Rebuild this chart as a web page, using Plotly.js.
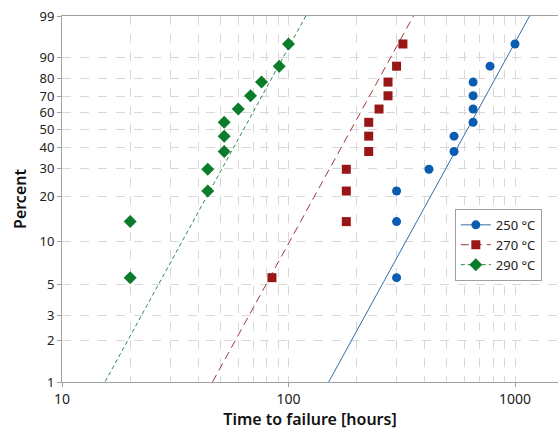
<!DOCTYPE html>
<html><head><meta charset="utf-8">
<script src="https://cdn.plot.ly/plotly-3.0.1.min.js"></script>
<style>html,body{margin:0;padding:0;background:#fff}#c{width:558px;height:430px}</style>
</head><body><div id="c"></div>
<script>
// Data (Weibull probability plot)
const seriesNames = ['250 °C', '270 °C', '290 °C'];
const percent = [5.6, 13.7, 21.8, 29.8, 37.9, 46.0, 54.0, 62.1, 70.2, 78.2, 86.3, 94.4];
const time250 = [300, 300, 300, 417, 538, 538, 653, 653, 653, 653, 776, 1000];
const time270 = [84.5, 180, 180, 180, 226, 226, 226, 251, 275, 275, 300, 320];
const time290 = [20, 20, 44, 44, 52, 52, 52, 60, 68, 76, 91, 100];
// Fitted Weibull lines (shape, scale in hours)
const shape = [3.0, 3.0, 3.0];
const scale = [697, 214, 71.7];
const yTickPercent = [1, 2, 3, 5, 10, 20, 30, 40, 50, 60, 70, 80, 90, 99];
const xTickVals = [10, 100, 1000];
const xTickLabels = ['10', '100', '1000'];

const colors = ['#0a5cb0', '#9a1616', '#0b7d2a'];
const lineColors = ['#2f6fae', '#9c3a3a', '#2e8a4a'];
const dashes = ['solid', '8px,5px', '4px,3px'];
const symbols = ['circle', 'square', 'diamond'];
const sizes = [9, 9, 10];
const times = [time250, time270, time290];

const w = p => Math.log(-Math.log(1 - p / 100));
const traces = [];
for (let i = 0; i < 3; i++) {
  const tEnds = [3, 5000];
  const wl = tEnds.map(t => shape[i] * (Math.log(t) - Math.log(scale[i])));
  traces.push({
    x: tEnds, y: wl, mode: 'lines+markers', name: seriesNames[i],
    line: {color: lineColors[i], width: 1, dash: dashes[i]},
    marker: {color: colors[i], symbol: symbols[i], size: sizes[i]},
    cliponaxis: true, hoverinfo: 'skip'
  });
  traces.push({
    x: times[i], y: percent.map(w), mode: 'markers', showlegend: false,
    marker: {color: colors[i], symbol: symbols[i], size: sizes[i]}
  });
}

const font = 'Noto Sans, Open Sans, sans-serif';
const grid = '#d8d8d8';
const layout = {
  width: 558, height: 430,
  margin: {l: 62, r: 0, t: 16, b: 48},
  paper_bgcolor: '#fff', plot_bgcolor: '#fff',
  font: {family: font, color: '#222', size: 13},
  showlegend: true,
  legend: {x: 0.792, y: 0.473, xanchor: 'left', yanchor: 'top',
    bordercolor: '#a0a0a0', borderwidth: 1, bgcolor: '#fff',
    font: {size: 13, color: '#222'}, tracegroupgap: 0},
  xaxis: {
    type: 'log', range: [1, 1 + 496 / 226.5],
    tickvals: xTickVals, ticktext: xTickLabels,
    showgrid: true, gridcolor: grid, griddash: 'dash', gridwidth: 1,
    minor: {dtick: 'D1', showgrid: true, gridcolor: grid, griddash: 'dash', gridwidth: 1, ticks: ''},
    showline: true, linecolor: '#a0a0a0', linewidth: 1, mirror: true,
    ticks: 'outside', ticklen: 4, tickcolor: '#a0a0a0', zeroline: false,
    tickfont: {size: 14, color: '#222'},
    title: {text: 'Time to failure [hours]', font: {size: 16, color: '#111', weight: 600}, standoff: 8}
  },
  yaxis: {
    range: [w(1), w(99)],
    tickvals: yTickPercent.map(w), ticktext: yTickPercent.map(String),
    showgrid: true, gridcolor: grid, griddash: 'dash', gridwidth: 1,
    showline: true, linecolor: '#a0a0a0', linewidth: 1,
    ticks: 'outside', ticklen: 4, tickcolor: '#a0a0a0', zeroline: false,
    tickfont: {size: 13, color: '#222'},
    title: {text: 'Percent', font: {size: 16, color: '#111', weight: 600}, standoff: 8}
  }
};
Plotly.newPlot('c', traces, layout, {displayModeBar: false, staticPlot: true});
</script></body></html>
